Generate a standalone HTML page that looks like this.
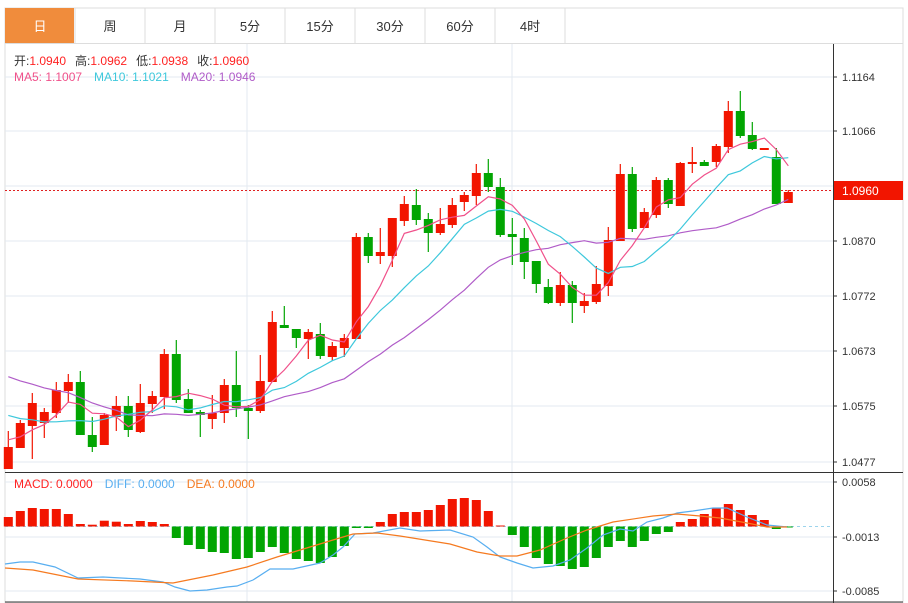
<!DOCTYPE html>
<html><head><meta charset="utf-8">
<style>
body{margin:0;background:#fff;width:908px;height:603px;overflow:hidden;font-family:"Liberation Sans","Noto Sans CJK SC",sans-serif}
svg{position:absolute;left:0;top:0}
</style></head><body>
<svg id="s" width="908" height="603" xmlns="http://www.w3.org/2000/svg" font-family="Liberation Sans, Noto Sans CJK SC, sans-serif"></svg>
<script>
var s=document.getElementById('s'),h='';
// frame
h+='<rect x="5" y="8" width="898" height="595" fill="#fff" stroke="#ddd"/>';
var tabs=['日','周','月','5分','15分','30分','60分','4时'];
for(var i=0;i<8;i++){var x=5+i*70;
 if(i==0)h+='<rect x="5" y="8" width="69" height="35" fill="#f08c3c"/>';
 h+='<line x1="'+(x+70)+'" y1="8" x2="'+(x+70)+'" y2="43" stroke="#ddd"/>';
 h+='<text x="'+(x+35)+'" y="31" font-size="13" text-anchor="middle" fill="'+(i==0?'#fff':'#333')+'">'+tabs[i]+'</text>';}
h+='<line x1="5" y1="43.5" x2="903" y2="43.5" stroke="#ddd"/>';
// grids
var gy=[77,131,186,241,296,351,406,462],gl=['1.1164','1.1066','','1.0870','1.0772','1.0673','1.0575','1.0477'];
gy.forEach(function(y,k){h+='<line x1="5" y1="'+y+'" x2="833" y2="'+y+'" stroke="#e3eaf0"/>';
 h+='<line x1="833" y1="'+y+'" x2="837" y2="'+y+'" stroke="#333"/>';
 if(gl[k])h+='<text x="842" y="'+(y+4)+'" font-size="11" fill="#333">'+gl[k]+'</text>';});
[247,512].forEach(function(x){h+='<line x1="'+x+'" y1="44" x2="'+x+'" y2="603" stroke="#e3eaf0"/>';});
[482,537,591].forEach(function(y){h+='<line x1="5" y1="'+y+'" x2="833" y2="'+y+'" stroke="#e3eaf0"/><line x1="833" y1="'+y+'" x2="837" y2="'+y+'" stroke="#333"/>';});
h+='<text x="842" y="486" font-size="11" fill="#333">0.0058</text><text x="842" y="541" font-size="11" fill="#333">-0.0013</text><text x="842" y="595" font-size="11" fill="#333">-0.0085</text>';
h+='<line x1="833.5" y1="44" x2="833.5" y2="603" stroke="#333"/><line x1="5" y1="472.5" x2="903" y2="472.5" stroke="#333"/><line x1="5" y1="602" x2="903" y2="602" stroke="#333"/>';
// candles [open, close, high, low] in y px
var C=[[469,447,431,469],[448,423,420,448],[426,403,393,459],[423,412,408,438],[413,390,382,418],[391,382,374,403],[382,435,371,435],[435,447,417,452],[445,415,413,445],[417,406,396,431],[406,430,396,437],[432,403,384,433],[404,396,391,413],[397,354,349,409],[354,400,340,403],[399,413,389,413],[412,415,410,437],[419,413,395,429],[413,385,379,423],[385,408,351,417],[408,411,405,439],[411,381,355,413],[382,322,311,382],[325,328,306,328],[329,338,329,348],[339,332,329,359],[334,356,323,359],[357,346,342,361],[348,338,334,357],[339,237,233,339],[237,256,233,263],[256,252,228,264],[256,218,218,267],[221,204,196,226],[205,220,189,225],[219,233,213,252],[233,224,208,235],[225,205,198,228],[202,195,192,211],[196,173,164,205],[173,187,159,192],[187,235,178,237],[234,237,218,265],[238,262,228,279],[261,284,261,293],[287,303,279,304],[303,285,272,306],[285,303,281,323],[306,301,293,313],[302,284,266,304],[286,240,227,296],[241,174,164,241],[174,229,167,232],[228,212,208,228],[215,180,177,218],[180,204,178,208],[206,163,162,206],[164,162,147,173],[162,166,160,166],[162,146,144,167],[147,111,101,153],[111,136,91,138],[135,149,122,150],[150,148,148,150],[157,204,148,204],[203,192,190,203]];
var X=function(i){return 8.3+12*i;};
// current price line
h+='<line x1="5" y1="190.5" x2="833" y2="190.5" stroke="#e02020" stroke-dasharray="2,2"/>';
C.forEach(function(c,i){var x=X(i),up=c[1]<=c[0],col=up?'#f21500':'#02a502';
 var t=Math.min(c[0],c[1]),b=Math.max(c[0],c[1]);if(b-t<2)b=t+2;
 h+='<line x1="'+x+'" y1="'+c[2]+'" x2="'+x+'" y2="'+c[3]+'" stroke="'+col+'" stroke-width="1.2"/>';
 h+='<rect x="'+(x-4.5)+'" y="'+t+'" width="9" height="'+(b-t)+'" fill="'+col+'"/>';});
// MAs
var pre=[];for(var k=0;k<10;k++)pre.push(338);for(k=0;k<5;k++)pre.push(391);for(k=0;k<4;k++)pre.push(438);
var cl=pre.concat(C.map(function(c){return c[1];}));
function ma(n,col){var p=[];for(var i=0;i<C.length;i++){var j=i+19,sm=0;for(var k=0;k<n;k++)sm+=cl[j-k];p.push(X(i).toFixed(1)+','+(sm/n).toFixed(1));}
 h+='<polyline points="'+p.join(' ')+'" fill="none" stroke="'+col+'" stroke-width="1.2"/>';}
ma(20,'#b05cc8');ma(10,'#3ec8dc');ma(5,'#f0508a');
// price label
h+='<rect x="834" y="181" width="69" height="19" fill="#f21500"/><text x="842" y="195" font-size="12" fill="#fff">1.0960</text>';
// info text
h+='<text x="14" y="65" font-size="12"><tspan fill="#333">开:</tspan><tspan fill="#f22">1.0940</tspan><tspan fill="#333" dx="9">高:</tspan><tspan fill="#f22">1.0962</tspan><tspan fill="#333" dx="9">低:</tspan><tspan fill="#f22">1.0938</tspan><tspan fill="#333" dx="9">收:</tspan><tspan fill="#f22">1.0960</tspan></text>';
h+='<text x="14" y="81" font-size="12"><tspan fill="#f0508a">MA5: 1.1007</tspan><tspan fill="#3ec8dc" dx="12">MA10: 1.1021</tspan><tspan fill="#b05cc8" dx="12">MA20: 1.0946</tspan></text>';
// MACD
h+='<line x1="5" y1="526.5" x2="833" y2="526.5" stroke="#9cd4ec" stroke-dasharray="3,3"/>';
var M=[517,511,508,509,509,514,524,524.7,520.7,521.7,524,521,522,524,538,545,549,552,553,559,558,552,547,553,559,561,563,557,546,528,528,522,514,512,512,510,505,499,498,500,511,525.5,535,547,558,564,566,569,567,558,547,541,547,541,534,532,522,519,514,508,504,510,515,520,529,527.5];
M.forEach(function(y,i){var x=X(i),z=526.5,col=y<z?'#f21500':'#02a502';
 h+='<rect x="'+(x-4.5)+'" y="'+Math.min(y,z)+'" width="9" height="'+Math.max(Math.abs(y-z),1)+'" fill="'+col+'"/>';});
var dif='5,564 20,562 33,562 55,567 78,578 103,577 140,579 163,582 175,587 190,591 207,590 227,587 237,586 253,580 270,569 293,569 320,563 333,555 343,547 355,534 373,533 400,528 420,531 450,530 473,537 487,547 500,557 517,563 533,568 553,566 570,560 587,548 603,535 620,529 633,531 647,522 663,518 677,513 693,511 713,508 727,508 747,517 767,525 787,527';
var dea='5,568 33,570 78,579 133,581 173,583 213,575 247,567 277,557 310,547 333,540 353,534 377,533 400,536 450,544 477,552 500,556 517,556 540,550 567,538 587,530 613,522 653,516 677,514 700,516 720,518 747,523 767,527 787,527';
h+='<polyline points="'+dif+'" fill="none" stroke="#58aef0" stroke-width="1.2"/><polyline points="'+dea+'" fill="none" stroke="#f57a20" stroke-width="1.2"/>';
h+='<text x="14" y="488" font-size="12"><tspan fill="#f22">MACD: 0.0000</tspan><tspan fill="#58aef0" dx="12">DIFF: 0.0000</tspan><tspan fill="#f57a20" dx="12">DEA: 0.0000</tspan></text>';
s.innerHTML=h;
</script>
</body></html>
